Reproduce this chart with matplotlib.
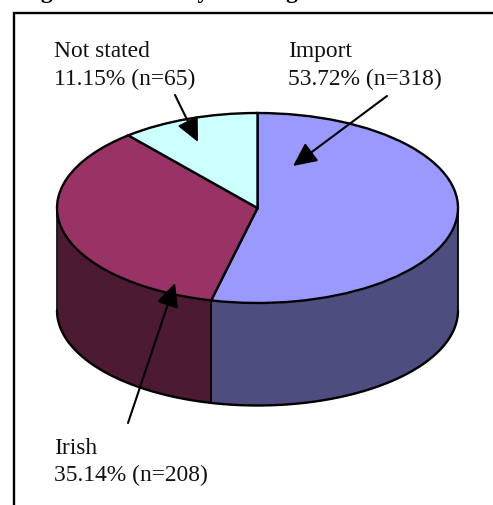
import numpy as np
import matplotlib
matplotlib.use("Agg")
import matplotlib.pyplot as plt
from matplotlib.patches import FancyArrowPatch

# Survey shares and counts
categories = ["Import", "Irish", "Not stated"]
shares = [53.72, 35.14, 11.15]
counts = [318, 208, 65]
top_colors = ["#9999FF", "#993366", "#CCFFFF"]
side_colors = ["#4D4D80", "#4D1A33", "#668080"]
title_text = "Figure 1: Cattle by calf origin"

WIDTH, HEIGHT = 493, 506
CX, CY, RX, RY, DEPTH = 257.5, 209, 200.5, 95, 102.5

plt.rcParams["font.family"] = ["Liberation Serif", "DejaVu Serif"]
fig = plt.figure(figsize=(WIDTH / 100, HEIGHT / 100), dpi=100, facecolor="white")

# Pie axes: one data unit is one radius, so the circle renders as a tilted ellipse
pie_ax = fig.add_axes([0, 0, 1, 1])
pie_ax.pie(shares, colors=top_colors, startangle=90, counterclock=False, radius=1,
           normalize=True,
           wedgeprops=dict(edgecolor="black", linewidth=1.7, zorder=3))
pie_ax.set_aspect("auto")
pie_ax.set_xlim(-CX / RX, (WIDTH - CX) / RX)
pie_ax.set_ylim((CY - HEIGHT) / RY, CY / RY)
pie_ax.axis("off")

# Cylinder wall under the front half of the pie
depth = DEPTH / RY
fractions = np.cumsum([0] + shares) / sum(shares)
for i, colour in enumerate(side_colors):
    start = 2 * np.pi * fractions[i]
    stop = 2 * np.pi * fractions[i + 1]
    lo, hi = max(start, np.pi / 2), min(stop, 3 * np.pi / 2)
    if lo >= hi:
        continue
    t = np.linspace(lo, hi, 200)
    x, y = np.sin(t), np.cos(t)
    pie_ax.fill_between(x, y - depth, y, color=colour, linewidth=0, zorder=1)
    pie_ax.plot(x, y - depth, color="black", lw=1.7, zorder=2, solid_capstyle="round")
    for edge in (lo, hi):
        ex, ey = np.sin(edge), np.cos(edge)
        pie_ax.plot([ex, ex], [ey, ey - depth], color="black", lw=1.2, zorder=2)

# Overlay in pixel units for the frame, callouts and captions
ov = fig.add_axes([0, 0, 1, 1])
ov.set_xlim(0, WIDTH)
ov.set_ylim(HEIGHT, 0)
ov.axis("off")
ov.patch.set_alpha(0)

ov.plot([13.5, 13.5, WIDTH], [HEIGHT, 14, 14], color="black", lw=1.7,
        solid_joinstyle="miter", clip_on=False)
ov.text(20, -2, title_text, fontsize=16.9, fontweight="bold", va="baseline", ha="left",
        color="black")

captions = [
    (288, 57, 85, 0),
    (54, 454, 481, 1),
    (54, 57, 85, 2),
]
for x, y1, y2, i in captions:
    ov.text(x, y1, categories[i], fontsize=16.9, va="baseline", color="#111111")
    ov.text(x, y2, f"{shares[i]:.2f}% (n={counts[i]})", fontsize=16.9, va="baseline",
            color="#111111")

callouts = [((387, 97), (293, 167)), ((128, 424), (175, 284)), ((175, 96), (198, 143))]
for tail, tip in callouts:
    ov.add_patch(FancyArrowPatch(tail, tip, arrowstyle="-|>,head_length=0.8,head_width=0.38",
                                 mutation_scale=18, color="black", lw=1.5,
                                 shrinkA=0, shrinkB=0, zorder=5))

fig.savefig("out.png", dpi=100)
